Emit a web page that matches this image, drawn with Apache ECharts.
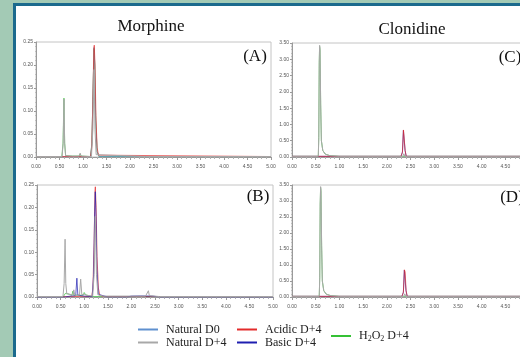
<!DOCTYPE html>
<html>
<head>
<meta charset="utf-8">
<script src="https://cdn.jsdelivr.net/npm/echarts@6/dist/echarts.min.js"></script>
<style>
  html, body { margin: 0; padding: 0; background: #a3cab5; }
  #chart { width: 520px; height: 357px; }
</style>
</head>
<body>
<div id="chart"></div>
<script>
// legend / series
const seriesNames = ['Natural D0', 'Natural D+4', 'Acidic D+4', 'Basic D+4', 'H2O2 D+4'];
const seriesColors = ['#5f90cf', '#a8a8a8', '#e32b2b', '#1f1fb0', '#35c135'];

// retention time axis (min)
const timeMin = 0;
const timeMax = 5;
const timeStep = 0.5;
// response axes
const morphineMax = 0.25;
const morphineStep = 0.05;
const clonidineMax = 3.5;
const clonidineStep = 0.5;

const panelTitles = ['Morphine', 'Clonidine'];
const panelLabels = ['(A)', '(B)', '(C)', '(D)'];

// Morphine (A)
const morA_h2o2 = [[0, 0.001], [0.55, 0.001], [0.575, 0.03], [0.595, 0.128], [0.61, 0.03], [0.63, 0.003], [0.78, 0.002], [0.80, 0.004], [0.83, 0.002], [0.92, 0.002], [0.94, 0.007], [0.96, 0.002], [1.16, 0.001], [1.19, 0.03], [1.215, 0.15], [1.235, 0.236], [1.25, 0.2], [1.27, 0.08], [1.30, 0.012], [1.34, 0.001], [5, 0.001]];
const morA_natD0 = [[0, 0.001], [1.16, 0.001], [1.19, 0.03], [1.215, 0.15], [1.235, 0.238], [1.25, 0.2], [1.27, 0.08], [1.30, 0.012], [1.34, 0.001], [5, 0.001]];
const morA_acid = [[0, 0.001], [1.16, 0.001], [1.185, 0.02], [1.21, 0.12], [1.23, 0.235], [1.24, 0.243], [1.255, 0.2], [1.275, 0.09], [1.30, 0.02], [1.33, 0.004], [1.36, 0.001], [5, 0.001]];
const morA_natD4 = [[0, 0.001], [0.555, 0.001], [0.578, 0.03], [0.596, 0.126], [0.61, 0.03], [0.63, 0.003], [0.78, 0.002], [0.80, 0.005], [0.83, 0.002], [0.92, 0.002], [0.94, 0.008], [0.96, 0.002], [1.18, 0.001], [1.21, 0.06], [1.235, 0.19], [1.255, 0.06], [1.28, 0.005], [1.32, 0.001], [2.33, 0.001], [2.35, 0.003], [2.37, 0.001], [5, 0.001]];

// Morphine (B)
const morB_h2o2 = [[0, 0.001], [0.56, 0.001], [0.60, 0.008], [0.68, 0.006], [0.74, 0.004], [0.76, 0.013], [0.78, 0.004], [0.98, 0.004], [1.0, 0.01], [1.03, 0.005], [1.06, 0.009], [1.09, 0.003], [1.18, 0.001], [5, 0.001]];
const morB_acid = [[0, 0.001], [1.16, 0.001], [1.185, 0.02], [1.21, 0.12], [1.228, 0.235], [1.236, 0.246], [1.252, 0.2], [1.272, 0.09], [1.30, 0.02], [1.33, 0.004], [1.4, 0.001], [5, 0.001]];
const morB_basic = [[0, 0.0], [0.6, 0.0], [0.7, 0.002], [0.82, 0.003], [0.845, 0.042], [0.865, 0.004], [1.0, 0.002], [1.17, 0.001], [1.20, 0.05], [1.222, 0.19], [1.235, 0.235], [1.25, 0.18], [1.27, 0.06], [1.30, 0.006], [1.5, 0.0], [1.9, 0.0], [2.0, 0.002], [2.2, 0.0025], [2.45, 0.002], [2.6, 0.0], [5, 0.0]];
const morB_natD4 = [[0, 0.001], [0.55, 0.001], [0.575, 0.03], [0.595, 0.129], [0.61, 0.03], [0.63, 0.008], [0.70, 0.006], [0.76, 0.004], [0.78, 0.016], [0.80, 0.004], [0.90, 0.004], [0.925, 0.04], [0.95, 0.005], [1.0, 0.006], [1.05, 0.004], [1.18, 0.002], [1.21, 0.05], [1.235, 0.18], [1.26, 0.05], [1.29, 0.005], [1.4, 0.002], [2.3, 0.002], [2.34, 0.003], [2.36, 0.014], [2.38, 0.003], [2.6, 0.001], [5, 0.001]];

// Clonidine (C)
const cloC_h2o2 = [[0, 0.02], [0.555, 0.02], [0.565, 0.6], [0.575, 2.9], [0.582, 3.4], [0.592, 3.28], [0.605, 1.6], [0.62, 0.5], [0.65, 0.2], [0.70, 0.09], [0.80, 0.04], [1.0, 0.02], [5, 0.02]];
const cloC_basic = [[0, 0.02], [2.30, 0.02], [2.33, 0.15], [2.35, 0.82], [2.365, 0.78], [2.385, 0.2], [2.41, 0.02], [5, 0.02]];
const cloC_acid = [[0, 0.02], [2.30, 0.02], [2.33, 0.15], [2.352, 0.83], [2.367, 0.78], [2.387, 0.2], [2.41, 0.02], [5, 0.02]];
const cloC_natD4 = [[0, 0.02], [0.555, 0.02], [0.565, 0.6], [0.575, 2.9], [0.583, 3.43], [0.592, 3.3], [0.605, 1.6], [0.62, 0.5], [0.65, 0.2], [0.70, 0.09], [0.80, 0.04], [1.0, 0.02], [2.34, 0.02], [2.36, 0.1], [2.38, 0.02], [5, 0.02]];

// Clonidine (D)
const cloD_h2o2 = [[0, 0.02], [0.575, 0.02], [0.585, 0.6], [0.595, 2.9], [0.603, 3.42], [0.612, 3.3], [0.625, 1.6], [0.64, 0.5], [0.67, 0.2], [0.72, 0.09], [0.82, 0.04], [1.0, 0.02], [5, 0.02]];
const cloD_basic = [[0, 0.02], [2.32, 0.02], [2.35, 0.15], [2.37, 0.84], [2.385, 0.78], [2.405, 0.2], [2.43, 0.02], [5, 0.02]];
const cloD_acid = [[0, 0.02], [2.32, 0.02], [2.35, 0.15], [2.372, 0.85], [2.387, 0.78], [2.407, 0.2], [2.43, 0.02], [5, 0.02]];
const cloD_natD4 = [[0, 0.02], [0.575, 0.02], [0.585, 0.6], [0.595, 2.9], [0.604, 3.45], [0.612, 3.32], [0.625, 1.6], [0.64, 0.5], [0.67, 0.2], [0.72, 0.09], [0.82, 0.04], [1.0, 0.02], [2.36, 0.02], [2.38, 0.1], [2.40, 0.02], [5, 0.02]];

const chart = echarts.init(document.getElementById('chart'), null, { renderer: 'canvas' });

const grids = [
  { left: 36, top: 42, width: 235, height: 115 },
  { left: 37, top: 185, width: 236, height: 112 },
  { left: 292, top: 43, width: 237, height: 114 },
  { left: 292, top: 185, width: 237, height: 112 },
].map(g => Object.assign(g, {
  show: true, borderColor: '#c4c4c4', borderWidth: 1, backgroundColor: 'transparent',
  containLabel: false, outerBoundsMode: 'none',
}));

const labelFont = 'Liberation Sans';
const serif = 'Liberation Serif';

function xAxis(i) {
  return {
    type: 'value', gridIndex: i, min: timeMin, max: timeMax, interval: timeStep,
    axisLine: { show: true, lineStyle: { color: '#9a9a9a', width: 1 } },
    axisTick: { show: true, length: 3, lineStyle: { color: '#9a9a9a' } },
    minorTick: { show: true, splitNumber: 5, length: 2, lineStyle: { color: '#b0b0b0' } },
    splitLine: { show: false },
    axisLabel: { fontSize: 5, color: '#555', fontFamily: labelFont, margin: 7, formatter: v => v.toFixed(2) },
  };
}

function yAxis(i, max, step) {
  return {
    type: 'value', gridIndex: i, min: 0, max: max, interval: step,
    axisLine: { show: true, lineStyle: { color: '#9a9a9a', width: 1 } },
    axisTick: { show: true, length: 2, lineStyle: { color: '#9a9a9a' } },
    minorTick: { show: true, splitNumber: 5, length: 1, lineStyle: { color: '#c0c0c0' } },
    splitLine: { show: false },
    axisLabel: { fontSize: 5, color: '#555', fontFamily: labelFont, margin: 3, formatter: v => v.toFixed(2) },
  };
}

function line(name, i, data, opacity) {
  const c = seriesColors[seriesNames.indexOf(name)];
  return {
    name, type: 'line', xAxisIndex: i, yAxisIndex: i, data,
    symbol: 'none', showSymbol: false, color: c,
    lineStyle: { width: 1, color: c, opacity: opacity || 0.7 }, silent: true, animation: false,
  };
}

// grey Natural D+4 trace drawn last, opaque, so the shared baseline reads grey
const series = [
  line('H2O2 D+4', 0, morA_h2o2),
  line('Natural D0', 0, morA_natD0),
  line('Acidic D+4', 0, morA_acid),
  line('Natural D+4', 0, morA_natD4, 1),
  line('H2O2 D+4', 1, morB_h2o2),
  line('Acidic D+4', 1, morB_acid),
  line('Basic D+4', 1, morB_basic),
  line('Natural D+4', 1, morB_natD4, 1),
  line('H2O2 D+4', 2, cloC_h2o2),
  line('Basic D+4', 2, cloC_basic),
  line('Acidic D+4', 2, cloC_acid),
  line('Natural D+4', 2, cloC_natD4, 1),
  line('H2O2 D+4', 3, cloD_h2o2),
  line('Basic D+4', 3, cloD_basic),
  line('Acidic D+4', 3, cloD_acid),
  line('Natural D+4', 3, cloD_natD4, 1),
];

const legendBase = {
  orient: 'vertical', icon: 'rect', itemWidth: 20, itemHeight: 2, itemGap: 0, padding: 0,
  selectedMode: false,
  itemStyle: { opacity: 1 },
  textStyle: { fontFamily: serif, fontSize: 12, lineHeight: 13, color: '#222', padding: [0, 0, 0, 3] },
};

const legends = [
  Object.assign({}, legendBase, { left: 138, top: 323, data: [seriesNames[0], seriesNames[1]] }),
  Object.assign({}, legendBase, { left: 237, top: 323, data: [seriesNames[2], seriesNames[3]] }),
  Object.assign({}, legendBase, {
    left: 331, top: 330, data: [seriesNames[4]],
    formatter: () => '{n|H}{s|2}{n|O}{s|2}{n| D+4}',
    textStyle: {
      fontFamily: serif, color: '#222', padding: [0, 0, 0, 3],
      rich: {
        n: { fontFamily: serif, fontSize: 12, lineHeight: 14, color: '#222', verticalAlign: 'middle' },
        s: { fontFamily: serif, fontSize: 8, lineHeight: 8, color: '#222', verticalAlign: 'bottom' },
      },
    },
  }),
];

function txt(x, y, s) {
  return {
    type: 'text', x, y, silent: true,
    style: { text: s, font: '17px "' + serif + '"', fill: '#111', align: 'center', verticalAlign: 'middle' },
  };
}

const graphic = [
  { type: 'rect', z: -10, silent: true, shape: { x: 13, y: 3, width: 520, height: 360 }, style: { fill: '#1b6a8d' } },
  { type: 'rect', z: -9, silent: true, shape: { x: 16, y: 6, width: 520, height: 360 }, style: { fill: '#ffffff' } },
  txt(151, 27, panelTitles[0]),
  txt(412, 30, panelTitles[1]),
  txt(255, 57, panelLabels[0]),
  txt(258, 197, panelLabels[1]),
  txt(510, 58, panelLabels[2]),
  txt(512, 198, panelLabels[3]),
];

chart.setOption({
  animation: false,
  backgroundColor: 'transparent',
  graphic,
  grid: grids,
  xAxis: [0, 1, 2, 3].map(xAxis),
  yAxis: [
    yAxis(0, morphineMax, morphineStep),
    yAxis(1, morphineMax, morphineStep),
    yAxis(2, clonidineMax, clonidineStep),
    yAxis(3, clonidineMax, clonidineStep),
  ],
  legend: legends,
  series,
});
</script>
</body>
</html>
